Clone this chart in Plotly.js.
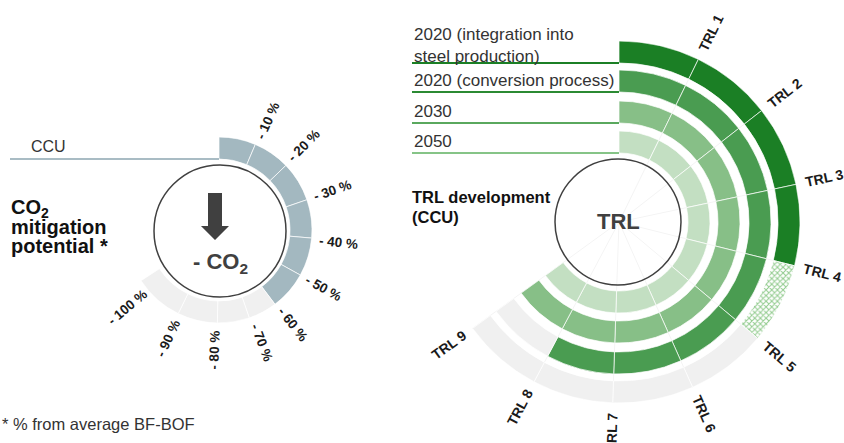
<!DOCTYPE html>
<html>
<head>
<meta charset="utf-8">
<script src="https://cdn.plot.ly/plotly-3.0.1.min.js"></script>
<style>html,body{margin:0;padding:0;background:#fff;}#chart{width:844px;height:443px;}</style>
</head>
<body>
<div id="chart"></div>
<script>
// ---------- data ----------
const co2Labels = ['- 10 %', '- 20 %', '- 30 %', '- 40 %', '- 50 %', '- 60 %', '- 70 %', '- 80 %', '- 90 %', '- 100 %'];
const co2Steps = [10, 20, 30, 40, 50, 60, 70, 80, 90, 100];
const ccuPotential = 60;                       // CCU reaches - 60 %
const co2Bounds = [0, 23, 46, 71, 95, 119, 143, 161, 181, 206, 237];   // gauge scale (deg)
const co2LabelAngles = [24, 45, 71, 96, 119, 142, 159, 182, 205, 230];

const trlLabels = ['TRL 1', 'TRL 2', 'TRL 3', 'TRL 4', 'TRL 5', 'TRL 6', 'TRL 7', 'TRL 8', 'TRL 9'];
const trlLevels = [1, 2, 3, 4, 5, 6, 7, 8, 9];
const scenarioNames = ['2020 (integration into<br>steel production)', '2020 (conversion process)', '2030', '2050'];
const scenarioTrl = [4, 8, 9, 9];          // TRL reached
const scenarioTrlPartial = [5, 0, 0, 0];   // TRL in progress (hatched)

// ---------- styling / geometry ----------
const W = 844, H = 443;
const FONT = 'Liberation Sans, Arial, sans-serif';
const px = x => x / W;
const py = y => 1 - y / H;

const L = {cx: 219, cy: 230, R: 93, base: 71, width: 22, circle: {cx: 220, cy: 231, r: 66}, labelR: 120};
const Rt = {cx: 619, cy: 222, R: 181, bases: [159, 130, 99, 69], width: 22, circle: {cx: 618, cy: 222, r: 63}, labelR: 210, step: 26};
const ringColors = ['#1b7f25', '#4a9c51', '#87bf87', '#c3dfc2'];
const lineColors = ['#1b7f25', '#2b8a33', '#5aa85e', '#86c487'];
const greyC = '#f0f0f0';
const blueC = '#a3b8c0';
const sep = {color: 'rgba(255,255,255,0.7)', width: 1};

const traces = [];

// ---------- left gauge ----------
const lBlue = {theta: [], width: [], r: [], base: []};
const lGrey = {theta: [], width: [], r: [], base: []};
co2Steps.forEach((s, i) => {
  const a0 = co2Bounds[i], a1 = co2Bounds[i + 1];
  const t = s <= ccuPotential ? lBlue : lGrey;
  t.theta.push((a0 + a1) / 2); t.width.push(a1 - a0); t.r.push(L.width); t.base.push(L.base);
});
[[lBlue, blueC], [lGrey, greyC]].forEach(([d, c]) => {
  traces.push({type: 'barpolar', subplot: 'polar', theta: d.theta, width: d.width, r: d.r, base: d.base,
    marker: {color: c, line: sep}, hoverinfo: 'skip'});
});

// ---------- right TRL rings ----------
scenarioNames.forEach((name, si) => {
  const solid = {theta: [], width: [], r: [], base: []};
  const hatch = {theta: [], width: [], r: [], base: []};
  const grey = {theta: [], width: [], r: [], base: []};
  trlLevels.forEach(k => {
    const t = k <= scenarioTrl[si] ? solid : (k === scenarioTrlPartial[si] ? hatch : grey);
    t.theta.push((k - 0.5) * Rt.step); t.width.push(Rt.step); t.r.push(Rt.width); t.base.push(Rt.bases[si]);
  });
  traces.push({type: 'barpolar', subplot: 'polar2', ...solid, marker: {color: ringColors[si], line: sep}, hoverinfo: 'skip'});
  if (hatch.theta.length) traces.push({type: 'barpolar', subplot: 'polar2', ...hatch,
    marker: {color: '#ffffff', line: sep, pattern: {shape: 'x', fgcolor: '#93cc8f', bgcolor: '#ffffff', size: 4, solidity: 0.45}}, hoverinfo: 'skip'});
  if (grey.theta.length) traces.push({type: 'barpolar', subplot: 'polar2', ...grey, marker: {color: greyC, line: sep}, hoverinfo: 'skip'});
});

// ---------- annotations ----------
const ann = [];
function radialLabel(cx, cy, r, theta, text, size) {
  const rad = theta * Math.PI / 180;
  const x = cx + r * Math.sin(rad), y = cy - r * Math.cos(rad);
  const ang = theta > 180 ? theta - 270 : theta - 90;
  ann.push({xref: 'paper', yref: 'paper', x: px(x), y: py(y), text: text, showarrow: false,
    textangle: ang, xanchor: 'center', yanchor: 'middle',
    font: {family: FONT, size: size, color: '#1a1a1a'}});
}
co2Labels.forEach((t, i) => radialLabel(L.cx, L.cy, L.labelR, co2LabelAngles[i], '<b>' + t + '</b>', 13.5));
trlLabels.forEach((t, i) => radialLabel(Rt.cx, Rt.cy, Rt.labelR, trlLevels[i] * Rt.step, '<b>' + t + '</b>', 14));

function txt(x, y, text, size, color) {
  ann.push({xref: 'paper', yref: 'paper', x: px(x), y: py(y), text: text, showarrow: false,
    xanchor: 'left', yanchor: 'middle', align: 'left',
    font: {family: FONT, size: size, color: color || '#333333'}});
}
txt(29, 146, 'CCU', 16);
txt(9, 208, '<b>CO<sub>2</sub></b>', 20, '#111111');
txt(9, 227, '<b>mitigation</b>', 20, '#111111');
txt(9, 246, '<b>potential *</b>', 20, '#111111');
txt(0, 424, '* % from average BF-BOF', 16.5);
txt(410, 197, '<b>TRL development</b>', 16.5, '#111111');
txt(410, 217, '<b>(CCU)</b>', 16.5, '#111111');
const labelCenters = [45, 81, 111.5, 141.5];
scenarioNames.forEach((n, i) => txt(412, labelCenters[i], n, 17));
// centre texts
ann.push({xref: 'paper', yref: 'paper', x: px(Rt.circle.cx), y: py(221), text: '<b>TRL</b>', showarrow: false,
  xanchor: 'center', yanchor: 'middle', font: {family: FONT, size: 22, color: '#404040'}});
ann.push({xref: 'paper', yref: 'paper', x: px(220), y: py(263), text: '<b>- CO<sub>2</sub></b>', showarrow: false,
  xanchor: 'center', yanchor: 'middle', font: {family: FONT, size: 22, color: '#404040'}});

// ---------- shapes ----------
const shapes = [];
function circ(c, color) {
  shapes.push({type: 'circle', xref: 'paper', yref: 'paper', x0: px(c.cx - c.r), x1: px(c.cx + c.r),
    y0: py(c.cy + c.r), y1: py(c.cy - c.r), line: {color: color, width: 1.5}, fillcolor: 'rgba(0,0,0,0)'});
}
circ(L.circle, '#404040');
circ(Rt.circle, '#404040');
function hline(x0, x1, y, color, w) {
  shapes.push({type: 'line', xref: 'paper', yref: 'paper', x0: px(x0), x1: px(x1), y0: py(y), y1: py(y), line: {color: color, width: w}});
}
hline(10, L.cx, L.cy - L.base, '#a9bcc4', 2);
Rt.bases.forEach((b, i) => hline(412, Rt.cx, Rt.cy - b, lineColors[i], 2));
const arrowPts = [[208, 193], [222, 193], [222, 226], [229, 226], [215, 240], [201, 226], [208, 226]];
shapes.push({type: 'path', xref: 'paper', yref: 'paper',
  path: 'M ' + arrowPts.map(p => px(p[0]).toFixed(5) + ',' + py(p[1]).toFixed(5)).join(' L ') + ' Z',
  fillcolor: '#404040', line: {width: 0}});

// ---------- layout ----------
function polarCfg(c, grid, tickvals) {
  return {
    domain: {x: [px(c.cx - c.R), px(c.cx + c.R)], y: [py(c.cy + c.R), py(c.cy - c.R)]},
    bgcolor: 'rgba(0,0,0,0)', hole: 0,
    radialaxis: {range: [0, c.R], visible: false},
    angularaxis: {rotation: 90, direction: 'clockwise', showticklabels: false, ticks: '', showline: false,
      showgrid: grid, gridcolor: '#f4f4f4', gridwidth: 1, tickmode: 'array', tickvals: tickvals},
    barmode: 'overlay'
  };
}
const layout = {
  width: W, height: H, margin: {l: 0, r: 0, t: 0, b: 0},
  paper_bgcolor: '#ffffff', plot_bgcolor: '#ffffff', showlegend: false,
  font: {family: FONT},
  polar: polarCfg(L, false, co2Bounds),
  polar2: polarCfg(Rt, true, trlLevels.map(k => k * Rt.step)),
  annotations: ann, shapes: shapes
};
Plotly.newPlot('chart', traces, layout, {staticPlot: true, displayModeBar: false});
</script>
</body>
</html>
